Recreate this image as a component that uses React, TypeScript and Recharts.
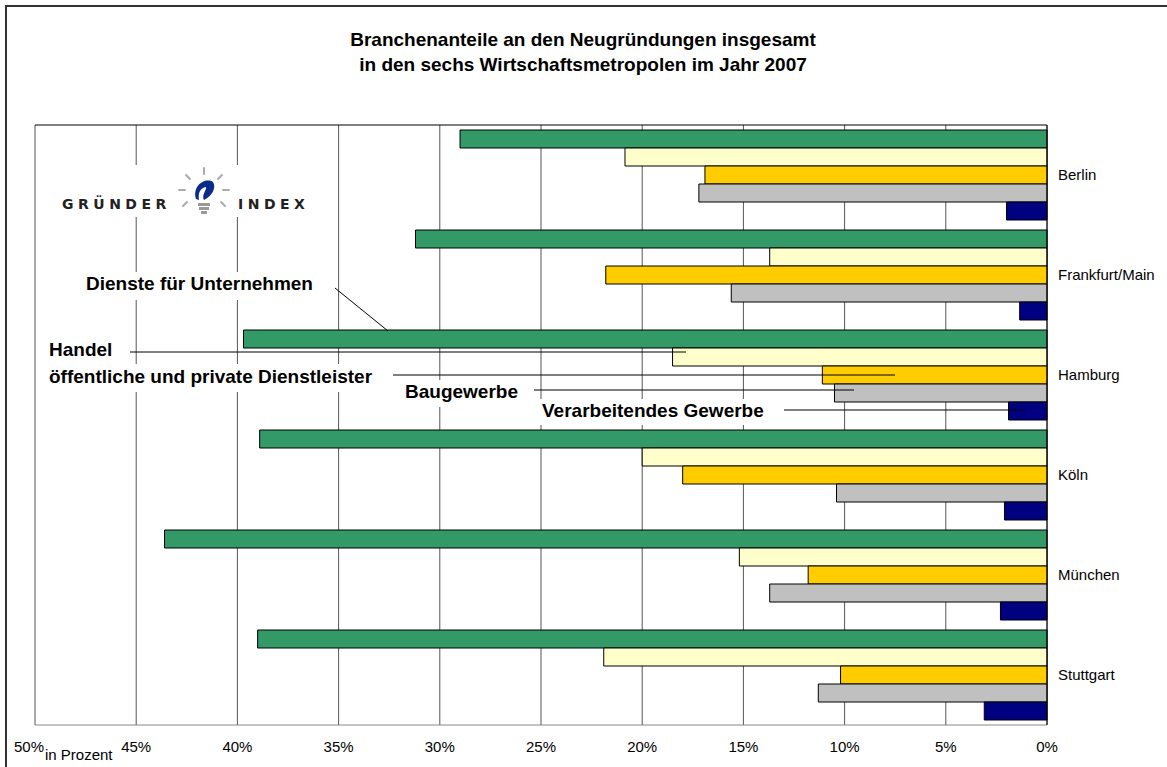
import { BarChart, Bar, XAxis, YAxis, CartesianGrid } from 'recharts';

const cities = ['Berlin', 'Frankfurt/Main', 'Hamburg', 'Köln', 'München', 'Stuttgart'];
const dienste = [29.0, 31.2, 39.7, 38.9, 43.6, 39.0];
const handel = [20.85, 13.7, 18.5, 20.0, 15.2, 21.9];
const oeffentlich = [16.9, 21.8, 11.1, 18.0, 11.8, 10.2];
const bau = [17.2, 15.6, 10.5, 10.4, 13.7, 11.3];
const verarbeitend = [2.0, 1.35, 1.9, 2.1, 2.3, 3.1];
const pctTicks = [0, 5, 10, 15, 20, 25, 30, 35, 40, 45, 50];

const data = cities.map((city, i) => ({
  city,
  dienste: dienste[i],
  handel: handel[i],
  oeffentlich: oeffentlich[i],
  bau: bau[i],
  verarbeitend: verarbeitend[i],
}));

const FONT = "Arial, 'Liberation Sans', Helvetica, sans-serif";

// the 50% label sits left of its gridline so "in Prozent" fits after it
function PctTick(props: any) {
  const { x, y, payload } = props;
  const last = payload.value === 50;
  return (
    <text x={last ? x + 9 : x} y={y} dy="0.71em" textAnchor={last ? 'end' : 'middle'}
      style={{ fontFamily: FONT, fontSize: 15, fill: '#000' }}>
      {`${payload.value}%`}
    </text>
  );
}

// label boxes (white fill hides the grid) + leader lines
function Annotations() {
  const lbl = { fontFamily: FONT, fontSize: 19, fontWeight: 700, fill: '#000' };
  const logo = { fontFamily: "'DejaVu Sans', Verdana, sans-serif", fontSize: 14, fontWeight: 700, fill: '#222', letterSpacing: 4.5 };
  return (
    <svg width={1167} height={767} style={{ position: 'absolute', left: 0, top: 0, pointerEvents: 'none' }}>
      {/* frame */}
      <line x1={5} y1={6} x2={1167} y2={6} stroke="#333" strokeWidth={2} />
      <line x1={6} y1={5} x2={6} y2={767} stroke="#333" strokeWidth={2} />

      <text x={583} y={46} textAnchor="middle" style={lbl}>Branchenanteile an den Neugründungen insgesamt</text>
      <text x={583} y={71} textAnchor="middle" style={lbl}>in den sechs Wirtschaftsmetropolen im Jahr 2007</text>

      {/* logo */}
      <rect x={58} y={165} width={254} height={52} fill="#fff" />
      <text x={62} y={209} style={logo}>GRÜNDER</text>
      <text x={238} y={209} style={logo}>INDEX</text>
      <g stroke="#aaa" strokeWidth={2} strokeLinecap="round">
        <line x1={204} y1={168} x2={204} y2={174} />
        <line x1={186} y1={175} x2={190} y2={179} />
        <line x1={222} y1={175} x2={218} y2={179} />
        <line x1={179} y1={190} x2={185} y2={190} />
        <line x1={223} y1={190} x2={229} y2={190} />
        <line x1={183} y1={206} x2={187} y2={202} />
        <line x1={225} y1={206} x2={221} y2={202} />
      </g>
      <path d="M196 199 C 192 186, 205 177, 213 182 C 217 188, 211 197, 204 200 C 201 195, 207 190, 206 187 C 200 188, 198 193, 199 200 Z" fill="#0a2a8c" />
      <rect x={198} y={203} width={12} height={3} fill="#999" />
      <rect x={199} y={207} width={10} height={3} fill="#999" />
      <rect x={201} y={211} width={6} height={3} fill="#999" />

      <rect x={80} y={272} width={246} height={28} fill="#fff" />
      <text x={86} y={290} style={lbl}>Dienste für Unternehmen</text>
      <line x1={335} y1={288} x2={388} y2={331} stroke="#000" />

      <rect x={44} y={338} width={78} height={24} fill="#fff" />
      <text x={49} y={356} style={lbl}>Handel</text>
      <line x1={130} y1={352} x2={686} y2={352} stroke="#000" />

      <rect x={44} y={364} width={342} height={28} fill="#fff" />
      <text x={49} y={383} style={lbl}>öffentliche und private Dienstleister</text>
      <line x1={393} y1={375} x2={895} y2={375} stroke="#000" />

      <rect x={399} y={380} width={128} height={27} fill="#fff" />
      <text x={405} y={398} style={lbl}>Baugewerbe</text>
      <line x1={534} y1={390} x2={854} y2={390} stroke="#000" />

      <rect x={536} y={399} width={240} height={26} fill="#fff" />
      <text x={542} y={417} style={lbl}>Verarbeitendes Gewerbe</text>
      <line x1={784} y1={410} x2={1025} y2={410} stroke="#000" />

      <text x={45} y={760} style={{ fontFamily: FONT, fontSize: 15, fill: '#000' }}>in Prozent</text>
    </svg>
  );
}

export default function App() {
  return (
    <div style={{ position: 'absolute', left: 0, top: 0, width: 1167, height: 767, background: '#fff', fontFamily: FONT }}>
      <BarChart
        width={1167}
        height={767}
        data={data}
        layout="vertical"
        margin={{ top: 115, right: 0, bottom: 12, left: 35 }}
        barCategoryGap="5%"
        barGap={0}
      >
        <CartesianGrid xAxisId="b" vertical horizontal={false} stroke="#555" />
        <XAxis
          xAxisId="t"
          orientation="top"
          type="number"
          domain={[0, 50]}
          ticks={pctTicks}
          reversed
          height={10}
          tickSize={8}
          interval={0}
          tickFormatter={() => ''}
          axisLine={{ stroke: '#000' }}
          tickLine={{ stroke: '#000' }}
        />
        <XAxis
          xAxisId="b"
          orientation="bottom"
          type="number"
          domain={[0, 50]}
          ticks={pctTicks}
          reversed
          height={30}
          tickSize={0}
          tickMargin={16}
          interval={0}
          tickLine={false}
          axisLine={{ stroke: '#888' }}
          tick={<PctTick />}
        />
        <YAxis
          type="category"
          dataKey="city"
          orientation="right"
          width={120}
          tickLine={false}
          tickSize={0}
          tickMargin={11}
          axisLine={{ stroke: '#000' }}
          tick={{ fill: '#000', fontSize: 15, fontFamily: FONT, textAnchor: 'start' }}
        />
        <Bar xAxisId="b" dataKey="dienste" fill="#339966" stroke="#000" strokeWidth={1} isAnimationActive={false} />
        <Bar xAxisId="b" dataKey="handel" fill="#FFFFCC" stroke="#000" strokeWidth={1} isAnimationActive={false} />
        <Bar xAxisId="b" dataKey="oeffentlich" fill="#FFCC00" stroke="#000" strokeWidth={1} isAnimationActive={false} />
        <Bar xAxisId="b" dataKey="bau" fill="#C0C0C0" stroke="#000" strokeWidth={1} isAnimationActive={false} />
        <Bar xAxisId="b" dataKey="verarbeitend" fill="#000080" stroke="#000" strokeWidth={1} isAnimationActive={false} />
      </BarChart>
      <Annotations />
    </div>
  );
}
